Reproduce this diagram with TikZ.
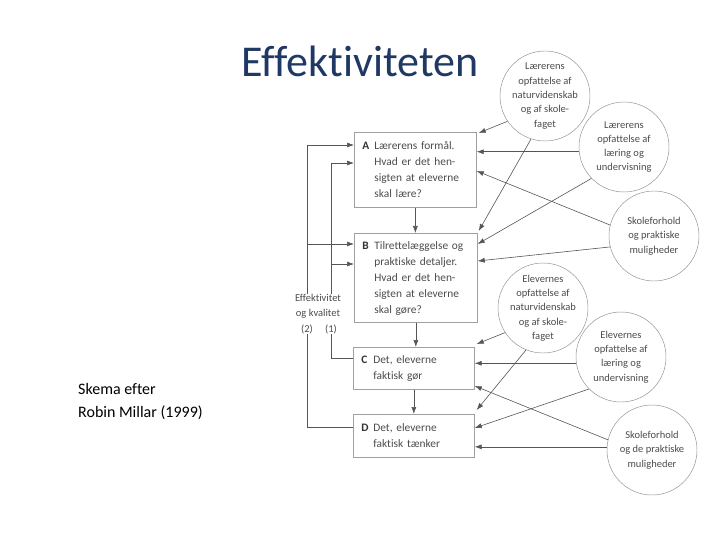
\documentclass[tikz,border=0pt]{standalone}
\usepackage{fontspec}
\setmainfont[Ligatures=NoCommon]{Carlito}
\usetikzlibrary{arrows.meta,calc}
\definecolor{titleblue}{RGB}{31,56,100}
\definecolor{linegray}{RGB}{85,85,85}
\definecolor{boxgray}{RGB}{160,160,160}
\definecolor{circgray}{RGB}{140,140,140}
\definecolor{txtgray}{RGB}{75,75,75}
\begin{document}
\begin{tikzpicture}[x=1pt,y=-1pt,
  boxnode/.style={draw=boxgray, line width=0.7pt, anchor=north west, inner xsep=8pt, inner ysep=0pt,
    text width=#1, align=left, font=\fontsize{11.4}{16}\selectfont, text=txtgray},
  circ/.style={circle, draw=circgray, line width=0.45pt, minimum size=90pt, inner sep=0pt},
  circtext/.style={align=center, font=\fontsize{10.5}{14.3}\selectfont, text=txtgray, inner sep=0pt},
  conn/.style={draw=linegray, line width=0.6pt, -{Latex[length=7pt,width=5pt]}},
  fb/.style={draw=linegray, line width=0.6pt},
  small/.style={font=\fontsize{10.5}{14}\selectfont, text=txtgray, inner sep=0pt}
]
\useasboundingbox (0,0) rectangle (720,540);

% title and source
\node[font=\fontsize{44}{50}\selectfont, text=titleblue, anchor=base, inner sep=0pt] (title) at (360,77) {Effektiviteten};
\node[font=\fontsize{16}{23}\selectfont, anchor=base west, inner sep=0pt] (src1) at (78,394) {Skema efter};
\node[font=\fontsize{16}{23}\selectfont, anchor=base west, inner sep=0pt] (src2) at (78,417) {Robin Millar (1999)};

% boxes
\newcommand{\lbl}[1]{\textbf{\color{black!80}#1}}
\node[boxnode=106pt, minimum height=75pt] (A) at (354,132) {%
  \begin{tabular}{@{}p{12pt}@{}l@{}}\lbl{A} & Lærerens formål.\\ & Hvad er det hen-\\ & sigten at eleverne\\ & skal lære?\end{tabular}};
\node[boxnode=107pt, minimum height=89pt] (B) at (354,233) {%
  \begin{tabular}{@{}p{12pt}@{}l@{}}\lbl{B} & Tilrettelæggelse og\\ & praktiske detaljer.\\ & Hvad er det hen-\\ & sigten at eleverne\\ & skal gøre?\end{tabular}};
\node[boxnode=105pt, minimum height=42pt] (C) at (353,347) {%
  \begin{tabular}{@{}p{12pt}@{}l@{}}\lbl{C} & Det, eleverne\\ & faktisk gør\end{tabular}};
\node[boxnode=105pt, minimum height=43pt] (D) at (353,414) {%
  \begin{tabular}{@{}p{12pt}@{}l@{}}\lbl{D} & Det, eleverne\\ & faktisk tænker\end{tabular}};

% circles
\node[circ] (c1) at (545,96) {};
\node[circtext] (c1t) at (c1) {Lærerens\\opfattelse af\\naturvidenskab\\og af skole-\\faget};
\node[circ] (c2) at (624,147) {};
\node[circtext] (c2t) at (c2) {Lærerens\\opfattelse af\\læring og\\undervisning};
\node[circ] (c3) at (654,236) {};
\node[circtext] (c3t) at (c3) {Skoleforhold\\og praktiske\\muligheder};
\node[circ] (c4) at (543,308) {};
\node[circtext] (c4t) at (c4) {Elevernes\\opfattelse af\\naturvidenskab\\og af skole-\\faget};
\node[circ] (c5) at (621,357) {};
\node[circtext] (c5t) at (c5) {Elevernes\\opfattelse af\\læring og\\undervisning};
\node[circ] (c6) at (652,450) {};
\node[circtext] (c6t) at (c6) {Skoleforhold\\og de praktiske\\muligheder};

% feedback label
\node[small] (eff) at (318,298) {Effektivitet};
\node[small] (ogk) at (318,314) {og kvalitet};
\node[small] (two) at (307,329) {(2)};
\node[small] (one) at (331,329) {(1)};

% vertical flow
\draw[conn] (A.south) -- (A.south |- B.north);
\draw[conn] (B.south) -- (B.south |- C.north);
\draw[conn] (C.south) -- (C.south |- D.north);

% circles to boxes
\draw[conn] (c1.214) -- ($(A.north east)+(2,1)$);
\draw[conn] (c2.186) -- (c2.186 -| A.east);
\draw[conn] (c3.166) -- ($(A.north east)+(0,39)$);
\draw[conn] (c1.252) -- ($(B.north east)+(1,-2)$);
\draw[conn] (c2.224) -- ($(B.north east)+(0,11)$);
\draw[conn] (c3.194) -- ($(B.north east)+(0,28)$);
\draw[conn] (c4.213) -- ($(C.north east)+(2,-3)$);
\draw[conn] (c5.188) -- (c5.188 -| C.east);
\draw[conn] (c6.167) -- ($(C.north east)+(0,39)$);
\draw[conn] (c4.248) -- ($(D.north east)+(2,-4)$);
\draw[conn] (c5.225) -- ($(D.north east)+(0,14)$);
\draw[conn] (c6.176) -- (c6.176 -| D.east);

% feedback loops
\draw[fb] ($(D.north west)+(0,13)$) -| (two.south);
\draw[fb] ($(C.north west)+(0,11)$) -| (one.south);
\draw[conn] (eff.north -| two) |- ($(A.north west)+(0,13)$);
\draw[conn] (eff.north -| two) |- ($(B.north west)+(0,11)$);
\draw[conn] (eff.north -| one) |- ($(A.north west)+(0,31)$);
\draw[conn] (eff.north -| one) |- ($(B.north west)+(0,31)$);
\end{tikzpicture}
\end{document}
